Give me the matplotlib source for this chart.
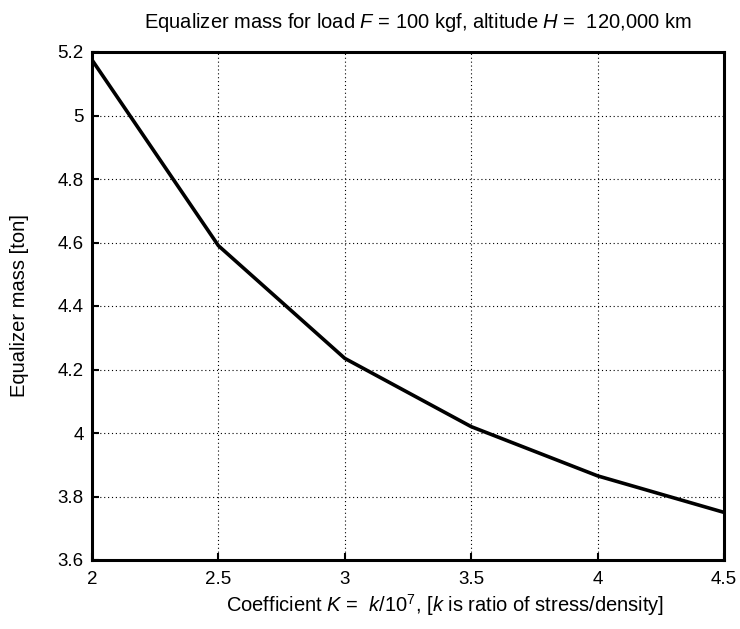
import matplotlib
matplotlib.use("Agg")
import matplotlib.pyplot as plt

# Coefficient K and equalizer mass values
coef_k = [2.0, 2.5, 3.0, 3.5, 4.0, 4.5]
mass_ton = [5.175, 4.59, 4.235, 4.02, 3.865, 3.75]

x_ticks = [2, 2.5, 3, 3.5, 4, 4.5]
x_tick_labels = ["2", "2.5", "3", "3.5", "4", "4.5"]
y_ticks = [3.6, 3.8, 4.0, 4.2, 4.4, 4.6, 4.8, 5.0, 5.2]
y_tick_labels = ["3.6", "3.8", "4", "4.2", "4.4", "4.6", "4.8", "5", "5.2"]

plt.rcParams["font.family"] = ["Liberation Sans", "DejaVu Sans"]
plt.rcParams["mathtext.fontset"] = "custom"
plt.rcParams["mathtext.rm"] = "Liberation Sans"
plt.rcParams["mathtext.it"] = "Liberation Sans:italic"

fig = plt.figure(figsize=(7.4, 6.29), dpi=100)
# axes box: x 92..724 px, y 52..560 px
ax = fig.add_axes([92 / 740, 1 - 560 / 629, 632 / 740, 508 / 629])

ax.plot(coef_k, mass_ton, color="black", linewidth=2.6)

ax.set_xlim(2, 4.5)
ax.set_ylim(3.6, 5.2)
ax.set_xticks(x_ticks)
ax.set_xticklabels(x_tick_labels)
ax.set_yticks(y_ticks)
ax.set_yticklabels(y_tick_labels)
ax.tick_params(direction="in", length=5, width=1.5, labelsize=13.5, pad=6)
ax.tick_params(axis="x", pad=8)

ax.grid(True, color="black", linestyle=(0, (1, 2.5)), linewidth=0.8)
for spine in ax.spines.values():
    spine.set_linewidth(2.2)
    spine.set_color("black")

fig.text(418 / 740, 1 - 23 / 629,
         r"Equalizer mass for load $F$ = 100 kgf, altitude $H$ =  120,000 km",
         fontsize=14.5, ha="center", va="center")
fig.text(445 / 740, 1 - 605 / 629,
         r"Coefficient $K$ =  $k$/10$^7$, [$k$ is ratio of stress/density]",
         fontsize=14.5, ha="center", va="center")
ax.set_ylabel("Equalizer mass [ton]", fontsize=14.5)
ax.yaxis.set_label_coords(-0.1, 0.5)

fig.savefig("out.png", dpi=100, facecolor="white")
plt.close(fig)
